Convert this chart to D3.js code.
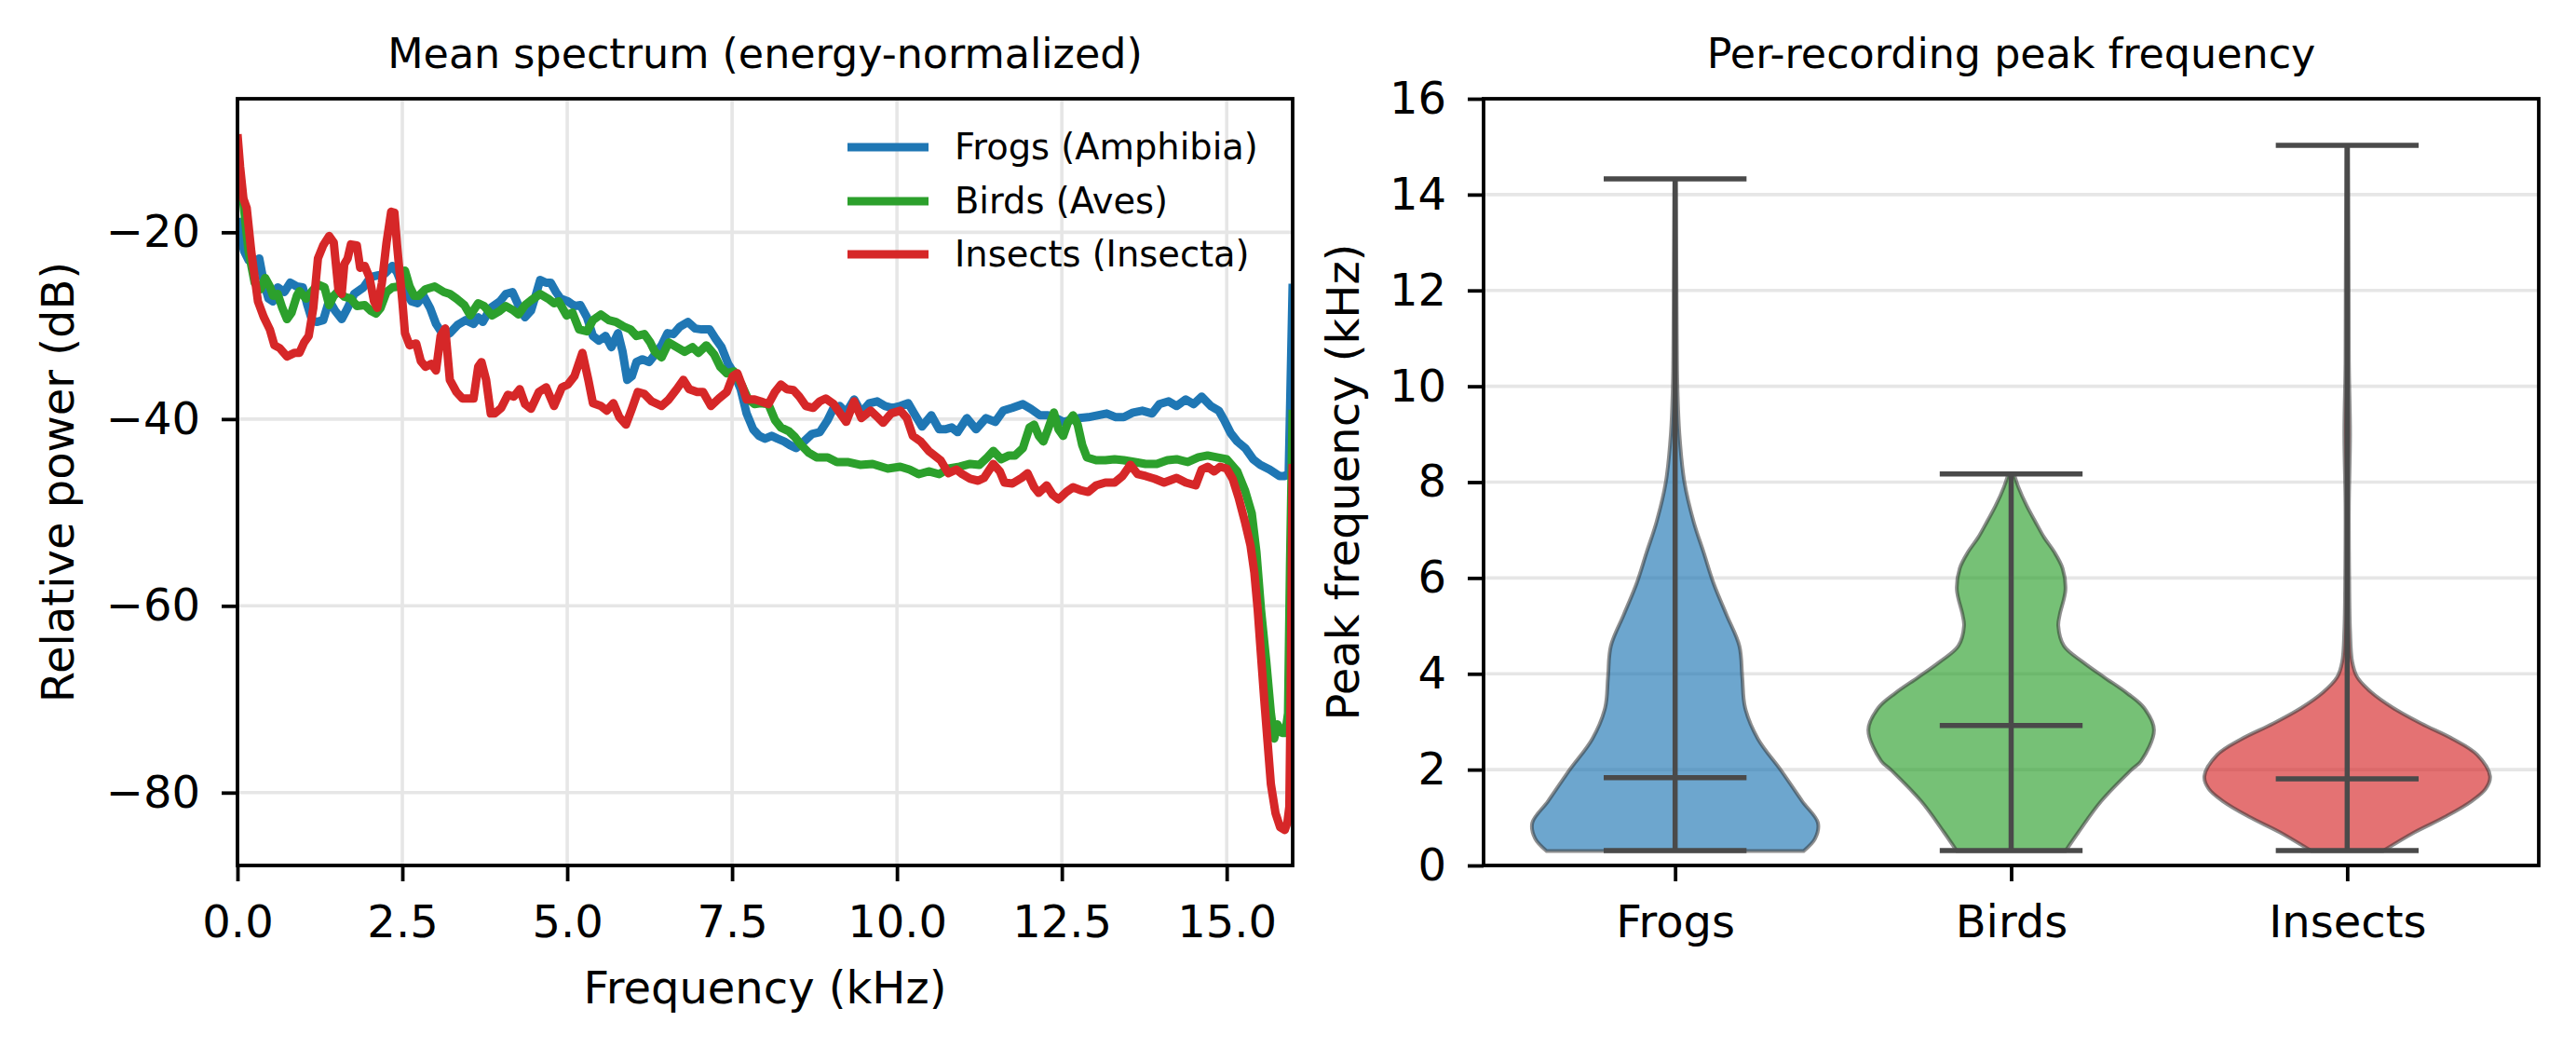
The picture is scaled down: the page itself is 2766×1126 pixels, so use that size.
<!DOCTYPE html>
<html>
<head>
<meta charset="utf-8">
<script src="https://cdn.jsdelivr.net/npm/d3@7"></script>
<style>
  body { margin: 0; background: #fff; }
  svg { display: block; font-family: "DejaVu Sans", sans-serif; }
</style>
</head>
<body>
<div id="chart"></div>
<script>
// ---- data ----
const speciesNames = ["Frogs (Amphibia)", "Birds (Aves)", "Insects (Insecta)"];
const shortNames = ["Frogs", "Birds", "Insects"];
const colors = ["#1f77b4", "#2ca02c", "#d62728"];

const freqTicks = [0, 2.5, 5, 7.5, 10, 12.5, 15];
const dbTicks = [-80, -60, -40, -20];
const peakTicks = [0, 2, 4, 6, 8, 10, 12, 14, 16];

// [kHz, dB]
const frogsSpectrum = [[0.00,-18.5],[0.05,-20.5],[0.10,-22.0],[0.17,-23.0],[0.26,-23.3],[0.33,-22.8],[0.40,-25.4],[0.47,-27.1],[0.54,-27.4],[0.61,-25.9],[0.71,-26.4],[0.80,-25.4],[0.90,-25.8],[0.99,-25.9],[1.06,-27.8],[1.13,-29.4],[1.20,-29.6],[1.30,-29.4],[1.39,-27.3],[1.48,-28.4],[1.58,-29.3],[1.67,-28.1],[1.77,-26.6],[1.91,-25.9],[2.02,-24.8],[2.14,-24.6],[2.24,-24.4],[2.35,-23.6],[2.42,-24.3],[2.52,-26.1],[2.64,-27.4],[2.73,-27.6],[2.82,-26.8],[2.92,-28.1],[3.01,-29.8],[3.13,-31.1],[3.22,-30.8],[3.34,-29.9],[3.46,-29.4],[3.58,-29.8],[3.65,-29.1],[3.72,-29.6],[3.84,-28.1],[3.98,-27.4],[4.07,-26.6],[4.17,-26.4],[4.26,-27.8],[4.36,-29.1],[4.45,-28.4],[4.52,-26.8],[4.59,-25.1],[4.68,-25.4],[4.75,-25.4],[4.83,-26.4],[4.90,-27.1],[5.01,-27.4],[5.11,-27.9],[5.20,-27.8],[5.30,-29.1],[5.39,-31.1],[5.48,-31.6],[5.58,-31.1],[5.67,-32.3],[5.77,-30.8],[5.84,-32.8],[5.91,-35.8],[5.98,-35.4],[6.05,-33.9],[6.14,-33.6],[6.24,-33.9],[6.33,-33.1],[6.43,-32.1],[6.52,-30.8],[6.61,-30.9],[6.71,-30.1],[6.83,-29.6],[6.94,-30.3],[7.04,-30.4],[7.16,-30.4],[7.25,-31.4],[7.34,-32.3],[7.44,-34.1],[7.53,-35.1],[7.63,-36.8],[7.72,-39.4],[7.82,-41.1],[7.91,-41.8],[8.00,-42.1],[8.10,-41.8],[8.19,-42.1],[8.29,-42.4],[8.38,-42.8],[8.47,-43.1],[8.59,-42.4],[8.71,-41.6],[8.83,-41.4],[8.95,-40.1],[9.04,-38.8],[9.13,-38.6],[9.23,-39.3],[9.35,-37.9],[9.46,-39.3],[9.58,-38.3],[9.70,-38.1],[9.82,-38.6],[9.93,-38.8],[10.05,-38.6],[10.17,-38.3],[10.26,-39.4],[10.38,-40.8],[10.52,-39.6],[10.64,-41.1],[10.73,-41.1],[10.83,-40.9],[10.92,-41.4],[11.06,-39.9],[11.20,-41.1],[11.35,-39.9],[11.49,-40.3],[11.61,-39.1],[11.75,-38.8],[11.91,-38.4],[12.03,-38.9],[12.17,-39.6],[12.29,-39.6],[12.41,-39.9],[12.52,-40.3],[12.64,-40.1],[12.76,-39.9],[12.90,-39.8],[13.04,-39.6],[13.18,-39.4],[13.32,-39.8],[13.44,-39.8],[13.58,-39.3],[13.72,-39.1],[13.87,-39.4],[13.98,-38.4],[14.12,-38.1],[14.24,-38.6],[14.38,-37.9],[14.50,-38.4],[14.62,-37.6],[14.76,-38.6],[14.88,-39.1],[14.96,-40.1],[15.06,-41.5],[15.16,-42.4],[15.28,-43.1],[15.40,-44.3],[15.51,-44.9],[15.65,-45.4],[15.80,-46.1],[15.88,-46.1],[15.94,-45.8],[16.00,-25.5]];

const birdsSpectrum = [[0.00,-10.5],[0.04,-13.8],[0.09,-16.9],[0.17,-22.1],[0.26,-25.4],[0.35,-26.1],[0.42,-24.9],[0.49,-25.8],[0.54,-26.8],[0.61,-26.6],[0.68,-28.1],[0.75,-29.3],[0.82,-28.6],[0.90,-26.8],[0.94,-26.3],[1.04,-27.1],[1.13,-26.3],[1.22,-25.6],[1.32,-25.9],[1.39,-27.8],[1.46,-26.8],[1.53,-26.3],[1.62,-26.9],[1.72,-27.1],[1.81,-27.9],[1.93,-27.8],[2.02,-28.4],[2.10,-28.7],[2.17,-28.1],[2.26,-26.4],[2.35,-25.9],[2.45,-25.8],[2.54,-24.1],[2.61,-25.8],[2.68,-26.8],[2.75,-26.8],[2.85,-26.1],[2.99,-25.8],[3.13,-26.4],[3.22,-26.6],[3.32,-27.1],[3.44,-27.8],[3.53,-28.9],[3.65,-27.6],[3.74,-27.9],[3.86,-28.9],[3.98,-28.4],[4.07,-27.9],[4.17,-28.3],[4.26,-28.8],[4.36,-27.8],[4.45,-27.3],[4.59,-26.6],[4.71,-27.1],[4.80,-27.6],[4.87,-27.4],[4.99,-28.9],[5.08,-28.6],[5.18,-30.4],[5.30,-30.6],[5.39,-29.4],[5.51,-28.8],[5.63,-29.4],[5.74,-29.6],[5.86,-30.1],[5.96,-30.4],[6.05,-31.1],[6.17,-30.9],[6.26,-31.8],[6.33,-32.8],[6.43,-33.4],[6.54,-31.8],[6.66,-32.3],[6.78,-32.8],[6.90,-32.3],[6.99,-32.9],[7.11,-32.1],[7.23,-33.1],[7.32,-34.4],[7.42,-35.1],[7.53,-34.9],[7.65,-36.4],[7.74,-37.8],[7.84,-38.4],[7.93,-38.3],[8.05,-38.4],[8.15,-40.1],[8.24,-40.9],[8.36,-41.3],[8.45,-41.9],[8.55,-42.8],[8.66,-43.6],[8.78,-44.1],[8.95,-44.1],[9.09,-44.6],[9.25,-44.6],[9.44,-44.9],[9.63,-44.8],[9.86,-45.3],[10.05,-45.1],[10.19,-45.4],[10.33,-45.9],[10.48,-45.6],[10.64,-45.9],[10.78,-45.3],[10.95,-45.1],[11.11,-44.8],[11.25,-44.9],[11.37,-44.1],[11.46,-43.4],[11.58,-44.3],[11.70,-43.9],[11.79,-43.9],[11.91,-43.1],[12.01,-40.9],[12.08,-40.6],[12.15,-41.8],[12.22,-42.4],[12.29,-41.1],[12.38,-39.3],[12.45,-41.1],[12.52,-41.8],[12.59,-40.4],[12.67,-39.6],[12.74,-40.6],[12.81,-42.8],[12.88,-44.1],[13.02,-44.4],[13.16,-44.4],[13.30,-44.3],[13.44,-44.4],[13.61,-44.6],[13.77,-44.8],[13.94,-44.8],[14.10,-44.4],[14.24,-44.3],[14.41,-44.6],[14.57,-44.1],[14.71,-43.9],[14.85,-44.1],[15.00,-44.3],[15.16,-45.6],[15.28,-47.7],[15.38,-50.1],[15.45,-54.2],[15.52,-60.4],[15.60,-66.0],[15.67,-71.5],[15.72,-74.2],[15.77,-72.7],[15.84,-73.6],[15.89,-73.6],[15.93,-71.5],[15.96,-55.6],[16.00,-39.0]];

const insectsSpectrum = [[0.00,-9.5],[0.04,-13.0],[0.09,-16.4],[0.14,-17.4],[0.21,-22.1],[0.31,-27.4],[0.40,-29.1],[0.49,-30.4],[0.56,-32.1],[0.64,-32.4],[0.75,-33.3],[0.87,-32.9],[0.94,-32.9],[1.01,-31.8],[1.08,-31.1],[1.15,-28.1],[1.22,-22.8],[1.30,-21.4],[1.39,-20.4],[1.46,-21.1],[1.53,-26.1],[1.58,-26.6],[1.62,-23.4],[1.67,-22.8],[1.72,-21.3],[1.81,-21.4],[1.86,-23.8],[1.93,-23.6],[2.00,-24.8],[2.07,-27.4],[2.12,-28.1],[2.19,-25.4],[2.26,-21.1],[2.33,-17.8],[2.38,-17.9],[2.42,-21.4],[2.50,-27.4],[2.54,-30.8],[2.61,-32.1],[2.71,-31.9],[2.78,-33.8],[2.85,-34.4],[2.94,-34.1],[3.01,-34.8],[3.08,-31.1],[3.15,-30.3],[3.22,-35.8],[3.32,-37.1],[3.41,-37.8],[3.58,-37.8],[3.65,-34.4],[3.70,-33.9],[3.77,-35.8],[3.84,-39.4],[3.90,-39.4],[4.00,-38.8],[4.10,-37.4],[4.19,-37.6],[4.28,-36.8],[4.36,-38.4],[4.45,-38.9],[4.57,-37.1],[4.68,-36.6],[4.80,-38.6],[4.92,-36.6],[5.01,-36.3],[5.11,-35.4],[5.23,-32.9],[5.32,-35.8],[5.39,-38.3],[5.51,-38.6],[5.60,-39.1],[5.70,-38.3],[5.79,-39.8],[5.89,-40.6],[5.98,-38.9],[6.07,-37.1],[6.17,-37.3],[6.28,-38.1],[6.43,-38.6],[6.54,-37.9],[6.66,-36.8],[6.76,-35.8],[6.85,-36.8],[6.97,-37.1],[7.06,-37.1],[7.18,-38.6],[7.30,-37.8],[7.42,-37.1],[7.51,-35.4],[7.58,-35.1],[7.65,-36.4],[7.72,-37.9],[7.84,-37.9],[7.93,-38.1],[8.05,-38.4],[8.15,-37.1],[8.24,-36.3],[8.33,-36.8],[8.43,-36.9],[8.52,-37.6],[8.62,-38.6],[8.73,-38.8],[8.83,-38.1],[8.92,-37.8],[9.04,-38.4],[9.13,-39.3],[9.23,-40.3],[9.35,-38.1],[9.46,-39.9],[9.60,-39.1],[9.72,-39.9],[9.79,-40.4],[9.91,-39.4],[10.05,-39.1],[10.15,-39.9],[10.24,-41.8],[10.36,-42.4],[10.48,-43.4],[10.57,-43.9],[10.66,-44.4],[10.78,-45.8],[10.90,-45.4],[10.99,-45.9],[11.11,-46.4],[11.23,-46.6],[11.32,-46.3],[11.46,-44.8],[11.56,-45.6],[11.63,-46.8],[11.75,-46.9],[11.89,-46.3],[11.98,-45.8],[12.08,-47.3],[12.15,-47.9],[12.27,-47.1],[12.36,-48.1],[12.45,-48.6],[12.57,-47.8],[12.67,-47.3],[12.78,-47.6],[12.90,-47.8],[13.02,-47.1],[13.16,-46.8],[13.30,-46.8],[13.42,-46.1],[13.54,-44.9],[13.65,-45.9],[13.77,-46.1],[13.91,-46.4],[14.05,-46.8],[14.24,-46.3],[14.38,-46.8],[14.53,-47.1],[14.62,-45.4],[14.71,-45.1],[14.81,-45.6],[14.90,-45.1],[15.00,-45.3],[15.09,-46.4],[15.18,-48.4],[15.28,-51.1],[15.36,-53.5],[15.42,-56.5],[15.47,-60.4],[15.52,-65.3],[15.57,-70.1],[15.62,-74.6],[15.67,-79.1],[15.74,-82.2],[15.81,-83.7],[15.88,-84.0],[15.92,-83.2],[15.95,-81.5],[15.97,-69.0],[16.00,-44.8]];

// violin outlines: [kHz, relative half-width]
const frogsViolin = [[0.30,0.90],[0.56,0.98],[0.89,1.0],[1.34,0.89],[1.99,0.74],[2.64,0.58],[3.29,0.49],[3.93,0.47],[4.58,0.45],[5.23,0.36],[5.88,0.27],[6.53,0.20],[7.17,0.13],[8.0,0.065],[9.0,0.03],[10.0,0.016],[11.0,0.012],[12.0,0.01],[13.0,0.008],[14.33,0.005]];
const birdsViolin = [[0.30,0.38],[0.69,0.47],[1.34,0.63],[1.99,0.84],[2.18,0.91],[2.83,1.0],[3.29,0.93],[3.60,0.81],[3.93,0.65],[4.25,0.50],[4.58,0.37],[5.0,0.33],[5.23,0.34],[5.75,0.38],[6.2,0.36],[6.55,0.30],[6.85,0.23],[7.17,0.17],[7.5,0.11],[7.9,0.05],[8.17,0.02]];
const insectsViolin = [[0.30,0.25],[0.69,0.47],[1.02,0.69],[1.34,0.87],[1.60,0.97],[1.86,1.0],[2.31,0.91],[2.64,0.74],[2.96,0.52],[3.29,0.32],[3.61,0.17],[3.93,0.07],[4.25,0.035],[4.9,0.02],[6.0,0.014],[7.5,0.012],[9.0,0.02],[10.5,0.012],[12.5,0.01],[15.03,0.006]];

const peakMins = [0.31, 0.31, 0.31];
const peakMedians = [1.83, 2.92, 1.81];
const peakMaxes = [14.33, 8.17, 15.03];

// ---- layout ----
const W = 2766, H = 1126;
const FONT = "'DejaVu Sans', sans-serif";
const gridColor = "#e6e6e6";

const svg = d3.select("#chart").append("svg")
  .attr("width", W).attr("height", H)
  .style("background", "#fff");

function styleAxis(g) {
  g.select(".domain").remove();
  g.selectAll(".tick line").attr("stroke", "#000").attr("stroke-width", 3.8);
  g.selectAll(".tick text").attr("fill", "#000").attr("font-size", 48).attr("font-family", FONT);
}

// ---- left panel: mean spectrum ----
const L = { left: 255, right: 1388, top: 106, bottom: 929 };
const x = d3.scaleLinear().domain([0, 16]).range([L.left, L.right]);
const y = d3.scaleLinear().domain([-87.8, -5.7]).range([L.bottom, L.top]);

const left = svg.append("g");

left.append("g").selectAll("line.vgrid")
  .data(freqTicks).join("line")
  .attr("x1", d => x(d)).attr("x2", d => x(d))
  .attr("y1", L.top).attr("y2", L.bottom)
  .attr("stroke", gridColor).attr("stroke-width", 3.6);

left.append("g").selectAll("line.hgrid")
  .data(dbTicks).join("line")
  .attr("x1", L.left).attr("x2", L.right)
  .attr("y1", d => y(d)).attr("y2", d => y(d))
  .attr("stroke", gridColor).attr("stroke-width", 3.6);

svg.append("clipPath").attr("id", "clipL")
  .append("rect").attr("x", L.left).attr("y", L.top)
  .attr("width", L.right - L.left).attr("height", L.bottom - L.top);

const line = d3.line().x(d => x(d[0])).y(d => y(d[1]));
const spectra = [frogsSpectrum, birdsSpectrum, insectsSpectrum];

left.append("g").attr("clip-path", "url(#clipL)")
  .selectAll("path")
  .data(spectra).join("path")
  .attr("d", line)
  .attr("fill", "none")
  .attr("stroke", (d, i) => colors[i])
  .attr("stroke-width", 9)
  .attr("stroke-linejoin", "round");

left.append("g")
  .attr("transform", `translate(0,${L.bottom})`)
  .call(d3.axisBottom(x).tickValues(freqTicks).tickFormat(d3.format(".1f"))
    .tickSize(17).tickPadding(26).tickSizeOuter(0))
  .call(styleAxis);

left.append("g")
  .attr("transform", `translate(${L.left},0)`)
  .call(d3.axisLeft(y).tickValues(dbTicks).tickFormat(d3.format("d"))
    .tickSize(17).tickPadding(23).tickSizeOuter(0))
  .call(styleAxis);

left.append("rect")
  .attr("x", L.left).attr("y", L.top)
  .attr("width", L.right - L.left).attr("height", L.bottom - L.top)
  .attr("fill", "none").attr("stroke", "#000").attr("stroke-width", 3.8);

left.append("text")
  .attr("x", (L.left + L.right) / 2).attr("y", 73)
  .attr("text-anchor", "middle").attr("font-size", 44.4).attr("font-family", FONT)
  .text("Mean spectrum (energy-normalized)");

left.append("text")
  .attr("x", (L.left + L.right) / 2).attr("y", 1077)
  .attr("text-anchor", "middle").attr("font-size", 48).attr("font-family", FONT)
  .text("Frequency (kHz)");

left.append("text")
  .attr("transform", `translate(79,${(L.top + L.bottom) / 2}) rotate(-90)`)
  .attr("text-anchor", "middle").attr("font-size", 48).attr("font-family", FONT)
  .text("Relative power (dB)");

// legend
const legend = left.append("g");
const legendRows = [158, 216, 273];
speciesNames.forEach((name, i) => {
  legend.append("line")
    .attr("x1", 910).attr("x2", 997)
    .attr("y1", legendRows[i]).attr("y2", legendRows[i])
    .attr("stroke", colors[i]).attr("stroke-width", 9);
  legend.append("text")
    .attr("x", 1025).attr("y", legendRows[i]).attr("dy", "0.35em")
    .attr("font-size", 38.4).attr("font-family", FONT)
    .text(name);
});

// ---- right panel: violins ----
const R = { left: 1593, right: 2726, top: 106, bottom: 929 };
const vx = d3.scaleLinear().domain([0.43, 3.57]).range([R.left, R.right]);
const vy = d3.scaleLinear().domain([0, 16]).range([R.bottom, R.top]);
const violinHalf = vx(1.425) - vx(1);
const capHalf = vx(1.2125) - vx(1);

const right = svg.append("g");

right.append("g").selectAll("line")
  .data(peakTicks.slice(1, -1)).join("line")
  .attr("x1", R.left).attr("x2", R.right)
  .attr("y1", d => vy(d)).attr("y2", d => vy(d))
  .attr("stroke", gridColor).attr("stroke-width", 3.6);

const violins = [frogsViolin, birdsViolin, insectsViolin];
violins.forEach((prof, i) => {
  const cx = vx(i + 1);
  const area = d3.area()
    .y(d => vy(d[0]))
    .x0(d => cx - d[1] * violinHalf)
    .x1(d => cx + d[1] * violinHalf)
    .curve(d3.curveCatmullRom.alpha(0.5));
  right.append("path")
    .attr("d", area(prof))
    .attr("fill", colors[i]).attr("fill-opacity", 0.65)
    .attr("stroke", "#333").attr("stroke-opacity", 0.55).attr("stroke-width", 4);
});

const statColor = "#4a4a4a";
[0, 1, 2].forEach(i => {
  const cx = vx(i + 1);
  right.append("line")
    .attr("x1", cx).attr("x2", cx)
    .attr("y1", vy(peakMins[i])).attr("y2", vy(peakMaxes[i]))
    .attr("stroke", statColor).attr("stroke-width", 5.5);
  [peakMins[i], peakMedians[i], peakMaxes[i]].forEach(v => {
    right.append("line")
      .attr("x1", cx - capHalf).attr("x2", cx + capHalf)
      .attr("y1", vy(v)).attr("y2", vy(v))
      .attr("stroke", statColor).attr("stroke-width", 5.5);
  });
});

right.append("g")
  .attr("transform", `translate(0,${R.bottom})`)
  .call(d3.axisBottom(vx).tickValues([1, 2, 3]).tickFormat(d => shortNames[d - 1])
    .tickSize(17).tickPadding(26).tickSizeOuter(0))
  .call(styleAxis);

right.append("g")
  .attr("transform", `translate(${R.left},0)`)
  .call(d3.axisLeft(vy).tickValues(peakTicks).tickFormat(d3.format("d"))
    .tickSize(17).tickPadding(23).tickSizeOuter(0))
  .call(styleAxis);

right.append("rect")
  .attr("x", R.left).attr("y", R.top)
  .attr("width", R.right - R.left).attr("height", R.bottom - R.top)
  .attr("fill", "none").attr("stroke", "#000").attr("stroke-width", 3.8);

right.append("text")
  .attr("x", (R.left + R.right) / 2).attr("y", 73)
  .attr("text-anchor", "middle").attr("font-size", 44.4).attr("font-family", FONT)
  .text("Per-recording peak frequency");

right.append("text")
  .attr("transform", `translate(1459,${(R.top + R.bottom) / 2}) rotate(-90)`)
  .attr("text-anchor", "middle").attr("font-size", 48).attr("font-family", FONT)
  .text("Peak frequency (kHz)");
</script>
</body>
</html>
